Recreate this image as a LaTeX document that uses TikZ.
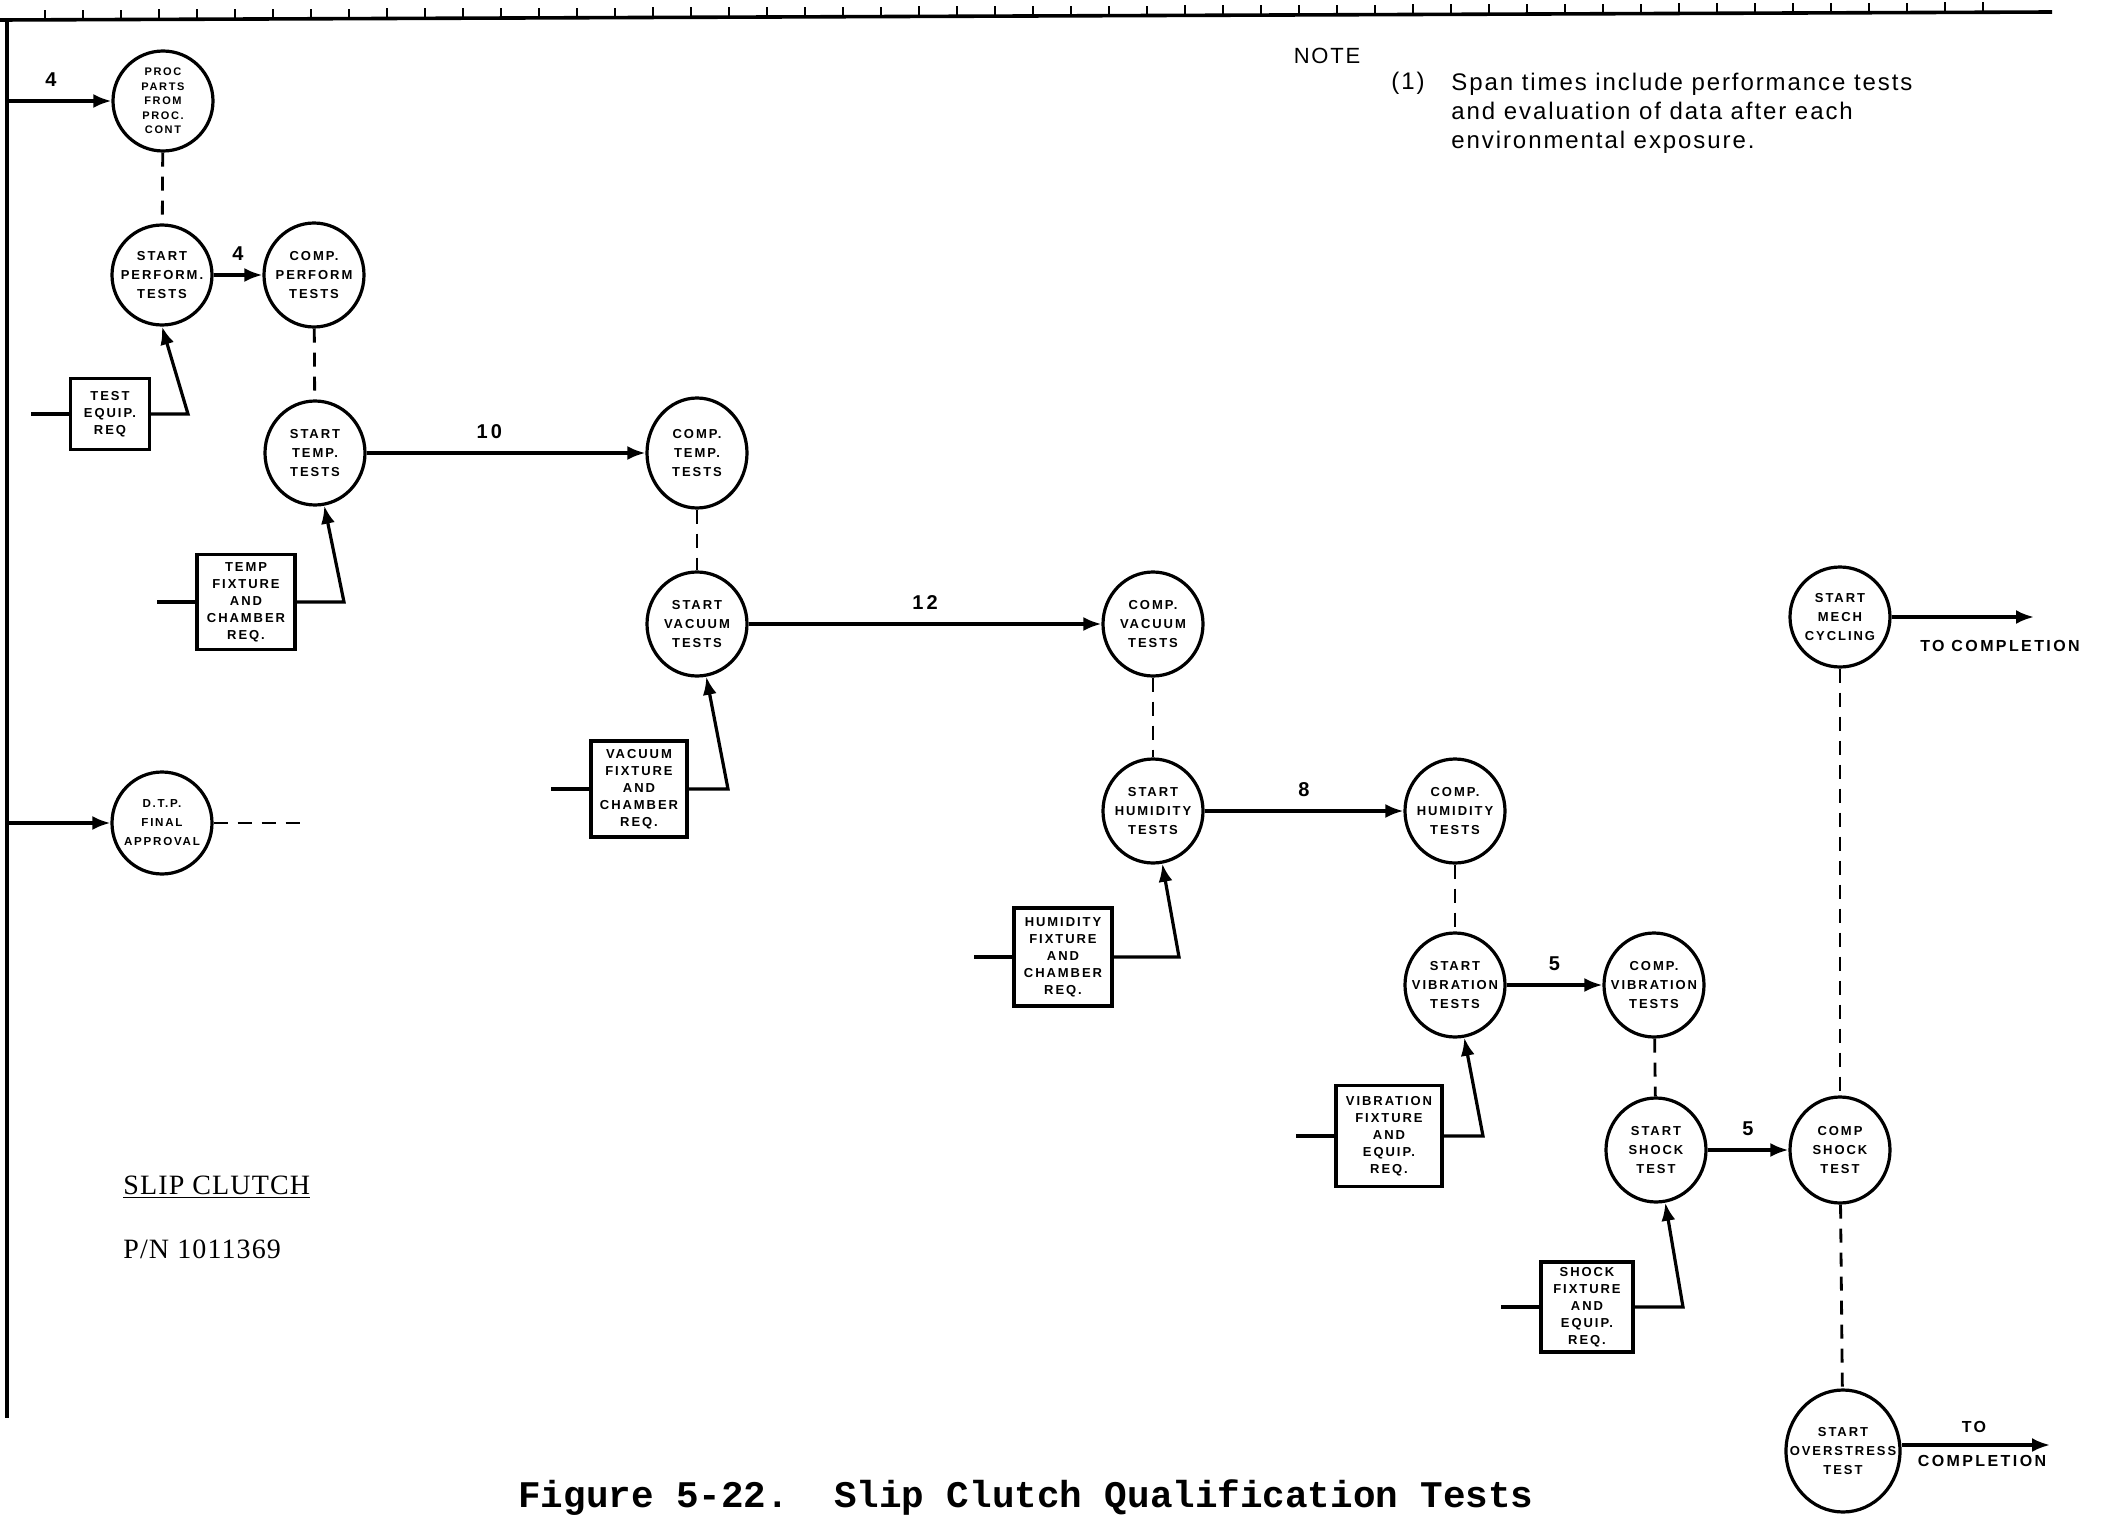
\documentclass[tikz,border=0pt]{standalone}
\usepackage{fontspec}
\setmainfont{Liberation Serif}
\newfontfamily\tagfont{Liberation Sans}[LetterSpace=15]
\newfontfamily\notefont{Liberation Sans}[LetterSpace=8]
\newfontfamily\partfont{Liberation Serif}[LetterSpace=4]
\newfontfamily\capfont{Liberation Mono}
\usetikzlibrary{arrows.meta,positioning,calc,shapes.geometric}
\tikzset{event/.style={draw,ellipse,line width=1.6pt,minimum width=50pt,minimum height=52pt,inner sep=-10pt,align=center,font=\tagfont\bfseries\fontsize{6.5}{9.5}\selectfont},small/.style={font=\tagfont\bfseries\fontsize{5.5}{7.2}\selectfont},need/.style={draw,line width=1.6pt,inner sep=0pt,align=center,font=\tagfont\bfseries\fontsize{6.5}{8.5}\selectfont},link/.style={-{Latex[length=9pt,width=7pt]},line width=1.6pt},wire/.style={line width=1.6pt},hold/.style={line width=1.4pt,dash pattern=on 7pt off 5pt},span/.style={font=\tagfont\bfseries\fontsize{10}{10}\selectfont,above=3pt}}

\begin{document}
\begin{tikzpicture}[x=0.5pt,y=-0.5pt]
\useasboundingbox (0,0) rectangle (2101,1520);
% time scale and left rail
\coordinate (railtop) at (7,19);
\coordinate (railbot) at (7,1418);
\draw[line width=1.8pt] (0,20) -- (2052,12);
\foreach \t in {0,...,51} \draw[line width=1.2pt] (45+38*\t,{20-0.0039*(45+38*\t)}) -- ++(0,-10);
\draw[wire] (railtop) -- (railbot);
% events
\node[event,small,minimum height=50pt](proc)at(163,101){PROC\\PARTS\\FROM\\PROC.\\CONT};
\node[event,minimum height=50pt](stperf)at(162,275){START\\PERFORM.\\TESTS};
\node[event](cpperf)at(314,275){COMP.\\PERFORM\\TESTS};
\node[event](sttemp)at(315,453){START\\TEMP.\\TESTS};
\node[event,minimum height=55pt](cptemp)at(697,453){COMP.\\TEMP.\\TESTS};
\node[event](stvac)at(697,624){START\\VACUUM\\TESTS};
\node[event](cpvac)at(1153,624){COMP.\\VACUUM\\TESTS};
\node[event](sthum)at(1153,811){START\\HUMIDITY\\TESTS};
\node[event](cphum)at(1455,811){COMP.\\HUMIDITY\\TESTS};
\node[event](stvib)at(1455,985){START\\VIBRATION\\TESTS};
\node[event](cpvib)at(1654,985){COMP.\\VIBRATION\\TESTS};
\node[event](stshk)at(1656,1150){START\\SHOCK\\TEST};
\node[event,minimum height=53pt](cpshk)at(1840,1150){COMP\\SHOCK\\TEST};
\node[event,minimum height=50pt](mech)at(1840,617){START\\MECH\\CYCLING};
\node[event,minimum width=57pt,minimum height=61pt](over)at(1843,1451){START\\OVERSTRESS\\TEST};
\node[event,small,minimum height=51pt,font=\tagfont\bfseries\fontsize{5.8}{9.5}\selectfont](dtp)at(162,823){D.T.P.\\FINAL\\APPROVAL};
% requirements
\node[need,minimum width=39.5pt,minimum height=35.5pt](tebox)at(110,414){TEST\\EQUIP.\\REQ};
\node[need,minimum width=49pt,minimum height=47.5pt](tfbox)at(246,602){TEMP\\FIXTURE\\AND\\CHAMBER\\REQ.};
\node[need,minimum width=48pt,minimum height=48pt](vfbox)at(639,789){VACUUM\\FIXTURE\\AND\\CHAMBER\\REQ.};
\node[need,minimum width=49pt,minimum height=49pt](hfbox)at(1063,957){HUMIDITY\\FIXTURE\\AND\\CHAMBER\\REQ.};
\node[need,minimum width=53pt,minimum height=50.5pt](vbbox)at(1389,1136){VIBRATION\\FIXTURE\\AND\\EQUIP.\\REQ.};
\node[need,minimum width=46pt,minimum height=45pt](sfbox)at(1587,1307){SHOCK\\FIXTURE\\AND\\EQUIP.\\REQ.};
% texts
\node[font=\notefont\fontsize{11}{14}\selectfont](note)at(1327,56){NOTE};
\node[font=\notefont\fontsize{12}{14.5}\selectfont](noteno)at(1408,83){(1)};
\node[anchor=north west,align=left,inner sep=0pt,font=\notefont\fontsize{12}{14.5}\selectfont](notetext)at(1451,73){Span times include performance tests\\and evaluation of data after each\\environmental exposure.};
\node[anchor=west,inner sep=0pt,font=\partfont\fontsize{14}{16}\selectfont](part)at(123,1187){\underline{SLIP CLUTCH}};
\node[anchor=west,inner sep=0pt,font=\partfont\fontsize{14}{16}\selectfont](partno)at(123,1249){P/N 1011369};
\node[font=\capfont\bfseries\fontsize{18.8}{20}\selectfont](caption)at(1026,1498){Figure 5-22.\ \ Slip Clutch Qualification Tests};
\node[font=\tagfont\bfseries\fontsize{8}{8}\selectfont](mechto)at(2000,646){TO COMPLETION};
\node[font=\tagfont\bfseries\fontsize{8}{8}\selectfont](overto)at(1974,1427){TO};
\node[font=\tagfont\bfseries\fontsize{8}{8}\selectfont](overcomp)at(1982,1461){COMPLETION};
\coordinate (mechend) at (2034,617);
\coordinate (overend) at (2050,1445);
\coordinate (dtpend) at (305,823);
% connectors
\draw[link](proc.west-|railtop)--node[span,pos=0.42]{4}(proc.west);
\draw[link](dtp.west-|railtop)--(dtp.west);
\draw[hold](dtp.east)--(dtpend);
\draw[link](stperf)--node[span]{4}(cpperf);
\draw[link](sttemp)--node[span,pos=0.44]{10}(cptemp);
\draw[link](stvac)--node[span]{12}(cpvac);
\draw[link](sthum)--node[span]{8}(cphum);
\draw[link](stvib)--node[span]{5}(cpvib);
\draw[link](stshk)--node[span]{5}(cpshk);
\draw[link](mech)--(mechend);
\draw[link](overend-|over.east)--(overend);
\draw[hold](proc)--(stperf);
\draw[hold](cpperf)--(sttemp);
\draw[hold](cptemp)--(stvac);
\draw[hold](cpvac)--(sthum);
\draw[hold](cphum)--(stvib);
\draw[hold](cpvib)--(stshk);
\draw[hold](mech)--(cpshk);
\draw[hold](cpshk)--(over);
\draw[link](tebox.east)--($(tebox.east-|stperf)+(26,0)$)--(stperf.south);
\draw[link](tfbox.east)--($(tfbox.east-|sttemp)+(29,0)$)--(sttemp.-80);
\draw[link](vfbox.east)--($(vfbox.east-|stvac)+(31,0)$)--(stvac.-80);
\draw[link](hfbox.east)--($(hfbox.east-|sthum)+(26,0)$)--(sthum.-80);
\draw[link](vbbox.east)--($(vbbox.east-|stvib)+(28,0)$)--(stvib.-80);
\draw[link](sfbox.east)--($(sfbox.east-|stshk)+(27,0)$)--(stshk.-80);
\foreach \b in {tebox,tfbox,vfbox,hfbox,vbbox,sfbox} \draw[wire](\b.west)--++(-38,0);
\end{tikzpicture}
\end{document}
